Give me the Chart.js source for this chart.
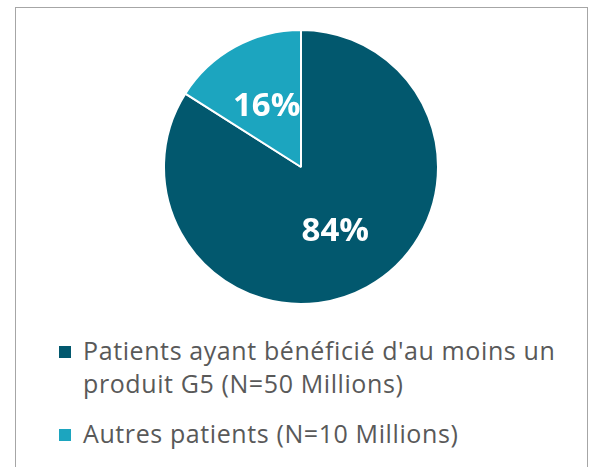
<!DOCTYPE html>
<html lang="fr">
<head>
<meta charset="UTF-8">
<title>Patients G5</title>
<script src="https://cdn.jsdelivr.net/npm/chart.js"></script>
<style>
  body { margin: 0; background: #fff; font-family: "Open Sans", sans-serif; }
  #frame { position: absolute; left: 15px; top: 7px; width: 571px; height: 480px; border: 1px solid #a6a6a6; }
  #pieBox { position: absolute; left: 162px; top: 29px; width: 278px; height: 276px; }
  #legend { position: absolute; left: 59px; top: 334px; color: #595959; font-size: 25px; letter-spacing: 0.6px; }
  .item { position: relative; padding-left: 24px; line-height: 33px; margin-bottom: 17px; }
  .item span.box { position: absolute; left: 0; top: 12px; width: 12px; height: 12px; }
</style>
</head>
<body>
<div id="frame"></div>
<div id="pieBox"><canvas id="pie"></canvas></div>
<div id="legend"></div>

<script>
// values are the shares shown on the slices (%)
var labels = [
  ["Patients ayant bénéficié d'au moins un", "produit G5 (N=50 Millions)"],
  ["Autres patients (N=10 Millions)"]
];
var shares = [84, 16];
var colors = ['#02586e', '#1ca5bf'];

// draws "84%" / "16%" inside the slices
var sliceLabels = {
  id: 'sliceLabels',
  afterDatasetsDraw: function(chart) {
    var ctx = chart.ctx;
    var meta = chart.getDatasetMeta(0);
    ctx.save();
    ctx.fillStyle = '#ffffff';
    ctx.font = 'bold 33px "Open Sans"';
    ctx.textAlign = 'center';
    ctx.textBaseline = 'middle';
    meta.data.forEach(function(arc, i) {
      var p = arc.getProps(['x', 'y', 'startAngle', 'endAngle', 'outerRadius'], true);
      var mid = (p.startAngle + p.endAngle) / 2;
      var r = p.outerRadius * 0.52;
      ctx.fillText(shares[i] + '%', p.x + Math.cos(mid) * r, p.y + Math.sin(mid) * r + 2);
    });
    ctx.restore();
  }
};

new Chart(document.getElementById('pie'), {
  type: 'pie',
  data: {
    labels: labels,
    datasets: [{
      data: shares,
      backgroundColor: colors,
      borderColor: '#ffffff',
      borderWidth: 2
    }]
  },
  options: {
    responsive: true,
    maintainAspectRatio: false,
    animation: false,
    plugins: { legend: { display: false }, tooltip: { enabled: false } }
  },
  plugins: [sliceLabels]
});

// html legend built from the same arrays
var legend = document.getElementById('legend');
labels.forEach(function(lines, i) {
  var div = document.createElement('div');
  div.className = 'item';
  var box = document.createElement('span');
  box.className = 'box';
  box.style.background = colors[i];
  div.appendChild(box);
  lines.forEach(function(line, j) {
    if (j > 0) div.appendChild(document.createElement('br'));
    div.appendChild(document.createTextNode(line));
  });
  legend.appendChild(div);
});
</script>
</body>
</html>
